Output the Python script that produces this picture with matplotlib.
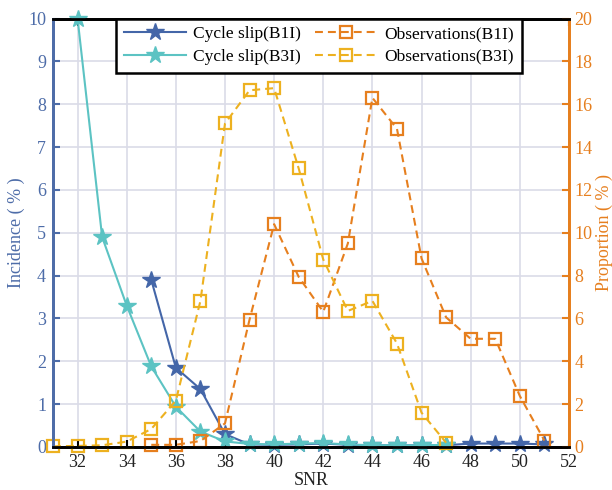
import matplotlib
matplotlib.use('Agg')
import matplotlib.pyplot as plt

# --------------------------------------------------------------------------------------------
# ** DATA **

snr_b1i_slip = [35, 36, 37, 38, 39, 40, 41, 42, 43, 44, 45, 46, 47, 48, 49, 50, 51]
slip_b1i = [3.9, 1.85, 1.35, 0.3, 0.06, 0.05, 0.06, 0.08, 0.05, 0.04, 0.04, 0.04, 0.04, 0.08, 0.08, 0.08, 0.06]

snr_b3i_slip = [32, 33, 34, 35, 36, 37, 38, 39, 40, 41, 42, 43, 44, 45, 46, 47]
slip_b3i = [10.0, 4.9, 3.3, 1.88, 0.94, 0.36, 0.13, 0.07, 0.06, 0.08, 0.09, 0.06, 0.04, 0.04, 0.04, 0.05]

snr_b1i_obs = [35, 36, 37, 38, 39, 40, 41, 42, 43, 44, 45, 46, 47, 48, 49, 50, 51]
obs_b1i = [0.1, 0.1, 0.28, 1.1, 5.95, 10.4, 7.94, 6.31, 9.5, 16.3, 14.85, 8.8, 6.05, 5.05, 5.05, 2.38, 0.3]

snr_b3i_obs = [31, 32, 33, 34, 35, 36, 37, 38, 39, 40, 41, 42, 43, 44, 45, 46, 47]
obs_b3i = [0.03, 0.05, 0.08, 0.25, 0.84, 2.16, 6.82, 15.1, 16.65, 16.75, 13.0, 8.75, 6.35, 6.82, 4.83, 1.6, 0.2]

x_ticks = list(range(32, 53, 2))
left_ticks = list(range(0, 11))
right_ticks = list(range(0, 21, 2))

# --------------------------------------------------------------------------------------------
# ** STYLE **

c_blue = '#4466A8'
c_cyan = '#5CC3C3'
c_orange = '#E67F1E'
c_yellow = '#EDB120'
c_left = '#4D6CA8'
c_grid = '#DADCE8'

plt.rcParams['font.family'] = ['Liberation Serif', 'DejaVu Serif']

fig = plt.figure(figsize=(6.12, 4.9), dpi=100)
ax = fig.add_axes([0.0866, 0.0878, 0.8431, 0.8744])
ax2 = ax.twinx()

# --------------------------------------------------------------------------------------------
# ** PLOT **

dash = (0, (3.8, 2.4))
l1, = ax.plot(snr_b1i_slip, slip_b1i, color=c_blue, lw=1.5, marker='*', ms=13,
              mfc=c_blue, mec=c_blue, label='Cycle slip(B1I)', clip_on=False, zorder=3)
l2, = ax.plot(snr_b3i_slip, slip_b3i, color=c_cyan, lw=1.5, marker='*', ms=13,
              mfc=c_cyan, mec=c_cyan, label='Cycle slip(B3I)', clip_on=False, zorder=3)
l3, = ax2.plot(snr_b1i_obs, obs_b1i, color=c_orange, lw=1.5, ls=dash, marker='s', ms=9,
               mfc='none', mec=c_orange, mew=1.6, label='Observations(B1I)', clip_on=False)
l4, = ax2.plot(snr_b3i_obs, obs_b3i, color=c_yellow, lw=1.5, ls=dash, marker='s', ms=9,
               mfc='none', mec=c_yellow, mew=1.6, label='Observations(B3I)', clip_on=False)

ax.set_xlim(31, 52)
ax.set_ylim(0, 10)
ax2.set_ylim(0, 20)
ax.set_xticks(x_ticks)
ax.set_yticks(left_ticks)
ax2.set_yticks(right_ticks)

ax.grid(True, color=c_grid, lw=1.2)
ax.set_axisbelow(True)

ax.tick_params(axis='x', direction='in', length=5, width=1.5, color='k', labelsize=13,
               labelcolor='#222222', top=True, pad=5)
ax.tick_params(axis='y', direction='in', length=5, width=1.5, color=c_left, labelsize=13,
               labelcolor=c_left, pad=5)
ax2.tick_params(axis='y', direction='in', length=5, width=1.5, color=c_orange, labelsize=13,
                labelcolor=c_orange, pad=4)

for a in (ax, ax2):
    a.spines['top'].set_color('k')
    a.spines['bottom'].set_color('k')
    a.spines['left'].set_color(c_left)
    a.spines['right'].set_color(c_orange)
    for s in a.spines.values():
        s.set_linewidth(2)

ax.set_xlabel('SNR', fontsize=13, color='#222222', labelpad=1)
ax.set_ylabel('Incidence ( % )', fontsize=13, color=c_left, labelpad=2)
ax2.set_ylabel('Proportion ( % )', fontsize=13, color=c_orange, labelpad=2)

leg = ax2.legend(handles=[l1, l2, l3, l4], ncol=2, loc='upper left',
                 bbox_to_anchor=(0.122, 1.0), borderaxespad=0, fontsize=12.5,
                 handlelength=3.6, handletextpad=0.4, columnspacing=0.8,
                 labelspacing=0.35, borderpad=0.45, fancybox=False, framealpha=1,
                 edgecolor='k')
leg.get_frame().set_linewidth(1.8)

fig.savefig('out.png', dpi=100)
